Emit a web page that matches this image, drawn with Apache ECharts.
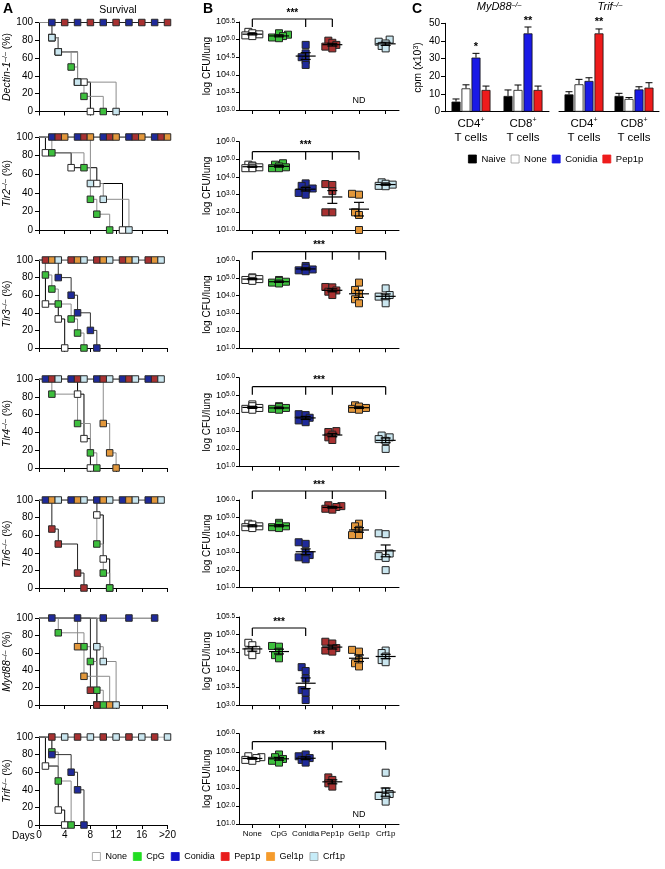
<!DOCTYPE html>
<html><head><meta charset="utf-8">
<script src="https://cdn.jsdelivr.net/npm/echarts@6/dist/echarts.min.js"></script>
<style>html,body{margin:0;padding:0;background:#fff}#c{width:665px;height:869px}</style>
</head><body><div id="c"></div>
<script>
// ---------------- DATA ----------------
const groups = ['None', 'CpG', 'Conidia', 'Pep1p', 'Gel1p', 'Crf1p'];
const genotypes = ['Dectin-1', 'Tlr2', 'Tlr3', 'Tlr4', 'Tlr6', 'Myd88', 'Trif'];
const dayTicks = [0, 4, 8, 12, 16, 20];
const dayTickLabels = ['0', '4', '8', '12', '16', '>20'];

// Survival curves [day, % alive], groups order: None, CpG, Conidia, Pep1p, Gel1p, Crf1p
const survDectin = [
  [[0,100],[2,83],[3,67],[6,33],[7,33],[8,0]],
  [[0,100],[2,83],[3,67],[5,50],[6,33],[7,17],[10,0]],
  [[0,100],[2,100],[6,100],[10,100],[14,100],[18,100]],
  [[0,100],[4,100],[8,100],[12,100],[16,100],[20,100]],
  null,
  [[0,100],[2,83],[3,67],[6,33],[12,0]]
];
const survTlr2 = [
  [[0,100],[1,83],[5,67],[9,50],[13,0]],
  [[0,100],[2,83],[7,67],[8,33],[9,17],[11,0]],
  [[0,100],[2,100],[6,100],[10,100],[14,100],[18,100]],
  [[0,100],[3,100],[7,100],[11,100],[15,100],[19,100]],
  [[0,100],[4,100],[8,100],[12,100],[16,100],[20,100]],
  [[0,100],[8,50],[10,33],[14,0]]
];
const survTlr3 = [
  [[0,100],[1,50],[3,33],[4,0]],
  [[0,100],[1,83],[2,67],[3,50],[5,33],[6,17],[7,0]],
  [[0,100],[3,80],[5,60],[6,40],[8,20],[9,0]],
  [[0,100],[1,100],[5,100],[9,100],[13,100],[17,100]],
  [[0,100],[2,100],[6,100],[10,100],[14,100],[18,100]],
  [[0,100],[3,100],[7,100],[11,100],[15,100],[19,100]]
];
const survTlr4 = [
  [[0,100],[6,83],[7,33],[8,0]],
  [[0,100],[2,83],[6,50],[8,17],[9,0]],
  [[0,100],[1,100],[5,100],[9,100],[13,100],[17,100]],
  [[0,100],[2,100],[6,100],[10,100],[14,100],[18,100]],
  [[0,100],[10,50],[11,17],[12,0]],
  [[0,100],[3,100],[7,100],[11,100],[15,100],[19,100]]
];
const survTlr6 = [
  [[0,100],[9,83],[10,33],[11,0]],
  [[0,100],[9,50],[10,17],[11,0]],
  [[0,100],[1,100],[5,100],[9,100],[13,100],[17,100]],
  [[0,100],[2,67],[3,50],[6,17],[7,0]],
  [[0,100],[2,100],[6,100],[10,100],[14,100],[18,100]],
  [[0,100],[3,100],[7,100],[11,100],[15,100],[19,100]]
];
const survMyd88 = [
  [[0,100],[9,0]],
  [[0,100],[3,83],[7,67],[8,50],[9,17],[10,0]],
  [[0,100],[2,100],[6,100],[10,100],[14,100],[18,100]],
  [[0,100],[8,17],[9,0]],
  [[0,100],[6,67],[7,33],[11,0]],
  [[0,100],[9,67],[10,50],[12,0]]
];
const survTrif = [
  [[0,100],[1,67],[3,17],[4,0]],
  [[0,100],[2,83],[3,50],[5,0]],
  [[0,100],[2,80],[5,60],[6,40],[7,0]],
  [[0,100],[2,100],[6,100],[10,100],[14,100],[18,100]],
  null,
  [[0,100],[4,100],[8,100],[12,100],[16,100],[20,100]]
];

// Fungal burden, log10 CFU/lung per mouse (empty = ND)
const cfuDectin = [[5.22,5.18,5.15,5.12,5.1],[5.18,5.14,5.1,5.06,5.04],[4.85,4.61,4.5,4.42,4.28],[4.97,4.91,4.85,4.8,4.75],[],[5.0,4.94,4.89,4.82,4.75]];
const cfuTlr2 = [[4.7,4.65,4.6,4.55,4.5,4.5],[4.78,4.7,4.6,4.55,4.5,4.5],[3.64,3.5,3.35,3.28,3.1,3.0],[3.6,3.55,3.2,2.0,2.0],[3.05,3.0,2.0,1.85,1.0],[3.7,3.62,3.57,3.5,3.48]];
const cfuTlr3 = [[5.05,5.0,4.95,4.9,4.85],[4.9,4.85,4.8,4.75,4.7],[5.7,5.6,5.5,5.45,5.4],[4.5,4.48,4.3,4.23,4.04],[4.75,4.33,4.1,3.8,3.57],[4.42,4.04,3.95,3.85,3.57]];
const cfuTlr4 = [[4.5,4.4,4.3,4.25,4.2],[4.4,4.35,4.3,4.25,4.2],[3.95,3.9,3.75,3.6,3.5],[3.0,2.95,2.8,2.65,2.5],[4.45,4.38,4.3,4.25,4.2],[2.75,2.65,2.55,2.45,2.0]];
const cfuTlr6 = [[4.65,4.6,4.5,4.45,4.4],[4.7,4.6,4.5,4.45,4.4],[3.59,3.5,3.0,2.86,2.73,2.62],[5.7,5.65,5.6,5.5,5.45],[4.65,4.5,4.3,4.0,4.0],[4.1,4.05,2.95,2.8,2.7,2.0]];
const cfuMyd88 = [[4.77,4.7,4.57,4.52,4.42],[4.68,4.66,4.52,4.42,4.33],[4.08,3.97,3.76,3.43,3.36,3.15],[4.8,4.75,4.62,4.55,4.52],[4.57,4.52,4.28,4.19,4.1],[4.55,4.48,4.38,4.28,4.22]];
const cfuTrif = [[4.75,4.7,4.65,4.55,4.5],[4.85,4.7,4.6,4.5,4.4],[4.85,4.75,4.65,4.55,4.4],[3.58,3.44,3.25,3.07],[],[3.84,2.8,2.66,2.55,2.5,2.24]];

// *** comparisons: first index = reference group
const sigDectin = [0, 2, 3];
const sigTlr2 = [0, 2, 3, 4];
const sigTlr3 = [0, 2, 3, 4, 5];
const sigTlr4 = [0, 2, 3, 5];
const sigTlr6 = [0, 2, 3, 5];
const sigMyd88 = [0, 2];
const sigTrif = [0, 3, 5];

// Panel C: T-cell proliferation, cpm (x10^3); rows = Naive, None, Conidia, Pep1p; cols = CD4, CD8
const cCategories = ['CD4', 'CD8'];
const cGroups = ['Naive', 'None', 'Conidia', 'Pep1p'];
const myd88Mean = [[5.7, 8.9], [13.2, 12.3], [30.6, 44.3], [12.3, 12.3]];
const myd88Sem = [[1.5, 3.4], [2.0, 2.8], [2.4, 3.6], [2.2, 2.2]];
const myd88Stars = [['', ''], ['', ''], ['*', '**'], ['', '']];
const trifMean = [[9.8, 8.9], [15.5, 7.2], [17.4, 12.6], [44.3, 13.6]];
const trifSem = [[1.5, 1.5], [2.8, 0.8], [1.8, 1.5], [2.5, 2.8]];
const trifStars = [['', ''], ['', ''], ['', ''], ['**', '']];

// ---------------- LAYOUT / STYLE ----------------
const FONT = '"Liberation Sans", Arial, Helvetica, sans-serif';
const survs = [survDectin, survTlr2, survTlr3, survTlr4, survTlr6, survMyd88, survTrif];
const cfus = [cfuDectin, cfuTlr2, cfuTlr3, cfuTlr4, cfuTlr6, cfuMyd88, cfuTrif];
const sigs = [sigDectin, sigTlr2, sigTlr3, sigTlr4, sigTlr6, sigMyd88, sigTrif];
const survLayout = [
  {top: 22.5, h: 89}, {top: 137, h: 93}, {top: 260, h: 88}, {top: 379, h: 89},
  {top: 500, h: 88}, {top: 618, h: 87}, {top: 737, h: 88}
];
const cfuLayout = [
  {top: 22, h: 88, min: 3, max: 5.5, step: 0.5, br: -3},
  {top: 141.7, h: 88.3, min: 1, max: 6, step: 1, br: 10},
  {top: 260.7, h: 87.6, min: 1, max: 6, step: 1, br: -9},
  {top: 377.7, h: 89, min: 1, max: 6, step: 1, br: 9},
  {top: 500, h: 87.7, min: 1, max: 6, step: 1, br: -9},
  {top: 617, h: 88.3, min: 3, max: 5.5, step: 0.5, br: 11},
  {top: 733.7, h: 90.3, min: 1, max: 6, step: 1, br: 8}
];
const markColor = {None: '#ffffff', CpG: '#3dbf3d', Conidia: '#1f2a9a', Pep1p: '#a83131', Gel1p: '#e2973b', Crf1p: '#cae6ef'};
const lineColor = {None: '#000000', CpG: '#8c8c8c', Conidia: '#333333', Pep1p: '#222222', Gel1p: '#8c8c8c', Crf1p: '#8c8c8c'};
const legendColor = {None: '#ffffff', CpG: '#22dd22', Conidia: '#1212c6', Pep1p: '#e81c1c', Gel1p: '#f59b2c', Crf1p: '#c6ecf8'};
const cColor = ['#000000', '#ffffff', '#1a1ae6', '#ee1c1c'];

const AX = {color: '#000', width: 1};
const grid = [], xAxis = [], yAxis = [], series = [];

function mean(a) { return a.reduce((s, v) => s + v, 0) / a.length; }
function sem(a) { const m = mean(a); return Math.sqrt(a.reduce((s, v) => s + (v - m) * (v - m), 0) / (a.length - 1)) / Math.sqrt(a.length); }
function swarm(values, pxPerUnit) {
  const order = values.map((v, i) => i).sort((a, b) => values[a] - values[b]);
  const placed = [], offs = new Array(values.length).fill(0);
  const cand = [0, -4, 4, -7, 7, -9, 9];
  order.forEach(i => {
    const y = values[i] * pxPerUnit;
    for (const dx of cand) {
      if (placed.every(p => Math.hypot(p.x - dx, p.y - y) >= 4.5)) { offs[i] = dx; placed.push({x: dx, y}); break; }
    }
  });
  return offs;
}

// ---- Panel A: survival ----
survs.forEach((sv, p) => {
  const L = survLayout[p];
  grid.push({left: 39, width: 128.5, top: L.top, height: L.h, outerBoundsMode: 'none', containLabel: false});
  const last = p === survs.length - 1;
  xAxis.push({
    type: 'value', gridIndex: p, min: 0, max: 20, interval: 4,
    axisLine: {show: true, onZero: false, lineStyle: AX},
    axisTick: {show: true, length: 4, lineStyle: AX},
    axisLabel: {show: last, fontSize: 10, color: '#000', fontFamily: FONT, margin: 5,
      formatter: v => dayTickLabels[dayTicks.indexOf(v)]},
    splitLine: {show: false}
  });
  yAxis.push({
    type: 'value', gridIndex: p, min: 0, max: 100, interval: 20,
    axisLine: {show: true, onZero: false, lineStyle: AX},
    axisTick: {show: true, length: 4, lineStyle: AX},
    axisLabel: {fontSize: 10, color: '#000', fontFamily: FONT, margin: 6},
    splitLine: {show: false},
    name: '{i|' + genotypes[p] + '}{s|\u2013/\u2013}{n| (%)}',
    nameLocation: 'middle', nameRotate: 90, nameGap: 22,
    nameTextStyle: {color: '#000', fontFamily: FONT, fontSize: 10.5,
      rich: {i: {fontStyle: 'italic', fontSize: 10.5, fontFamily: FONT, color: '#000'},
             s: {fontSize: 7, verticalAlign: 'top', fontFamily: FONT, color: '#000'},
             n: {fontSize: 10.5, fontFamily: FONT, color: '#000'}}}
  });
  sv.forEach((pts, g) => {
    if (!pts) return;
    const name = groups[g];
    series.push({type: 'line', name, xAxisIndex: p, yAxisIndex: p, step: 'end', data: pts,
      symbol: 'none', lineStyle: {color: lineColor[name], width: 1}, itemStyle: {color: markColor[name]},
      z: 2, silent: true, animation: false});
  });
  sv.forEach((pts, g) => {
    if (!pts) return;
    const name = groups[g];
    series.push({type: 'scatter', name, xAxisIndex: p, yAxisIndex: p, data: pts.slice(1),
      symbol: 'rect', symbolSize: 6.5,
      itemStyle: {color: markColor[name], borderColor: '#2a2a2a', borderWidth: 1, opacity: 1},
      z: 3 + g, silent: true, animation: false});
  });
});

// ---- Panel B: CFU dot plots ----
function statRender(params, api) {
  const g = api.value(0), m = api.value(1), s = api.value(2);
  const c = api.coord([g, m]), t = api.coord([g, m + s]), b = api.coord([g, m - s]);
  const st = {stroke: '#000', lineWidth: 1.2};
  return {type: 'group', children: [
    {type: 'line', shape: {x1: c[0] - 10, y1: c[1], x2: c[0] + 10, y2: c[1]}, style: st},
    {type: 'line', shape: {x1: c[0], y1: t[1], x2: c[0], y2: b[1]}, style: st},
    {type: 'line', shape: {x1: c[0] - 5, y1: t[1], x2: c[0] + 5, y2: t[1]}, style: st},
    {type: 'line', shape: {x1: c[0] - 5, y1: b[1], x2: c[0] + 5, y2: b[1]}, style: st}
  ]};
}
cfus.forEach((cf, p) => {
  const L = cfuLayout[p];
  const gi = 7 + p;
  grid.push({left: 239, width: 160, top: L.top, height: L.h, outerBoundsMode: 'none', containLabel: false});
  xAxis.push({
    type: 'category', gridIndex: gi, data: groups, boundaryGap: true,
    axisLine: {show: true, onZero: false, lineStyle: AX},
    axisTick: {show: true, alignWithLabel: true, length: 4, lineStyle: AX},
    axisLabel: {show: p === cfus.length - 1, fontSize: 8, color: '#000', fontFamily: FONT, margin: 6, interval: 0},
    splitLine: {show: false}
  });
  yAxis.push({
    type: 'value', gridIndex: gi, min: L.min, max: L.max, interval: L.step,
    axisLine: {show: true, onZero: false, lineStyle: AX},
    axisTick: {show: true, length: 3, lineStyle: AX},
    axisLabel: {fontSize: 9, color: '#000', fontFamily: FONT, margin: 4,
      formatter: v => '10{s|' + v.toFixed(1) + '}',
      rich: {s: {fontSize: 6.5, verticalAlign: 'top', color: '#000', fontFamily: FONT}}},
    splitLine: {show: false},
    name: 'log CFU/lung', nameLocation: 'middle', nameRotate: 90, nameGap: 26,
    nameTextStyle: {fontSize: 10, color: '#000', fontFamily: FONT}
  });
  const pxPerUnit = L.h / (L.max - L.min);
  cf.forEach((vals, g) => {
    if (!vals.length) return;
    const offs = swarm(vals, pxPerUnit);
    series.push({type: 'scatter', name: groups[g], xAxisIndex: gi, yAxisIndex: gi,
      data: vals.map((v, i) => ({value: [g, v], symbolOffset: [offs[i], 0]})),
      symbol: 'rect', symbolSize: 7,
      itemStyle: {color: markColor[groups[g]], borderColor: '#222', borderWidth: 1, opacity: 1},
      z: 3, silent: true, animation: false});
  });
  const stats = [];
  cf.forEach((vals, g) => { if (vals.length) stats.push([g, mean(vals), sem(vals)]); });
  series.push({type: 'custom', xAxisIndex: gi, yAxisIndex: gi, data: stats, renderItem: statRender,
    z: 5, silent: true, animation: false});
  const sig = sigs[p];
  series.push({type: 'custom', xAxisIndex: gi, yAxisIndex: gi, data: [[sig[0], L.max]], z: 5, silent: true, animation: false,
    renderItem: (params, api) => {
      const yTop = api.coord([0, L.max])[1] + L.br;
      const xs = sig.map(g => api.coord([g, L.max])[0]);
      const st = {stroke: '#000', lineWidth: 1.2};
      const ch = [{type: 'line', shape: {x1: xs[0], y1: yTop, x2: xs[xs.length - 1], y2: yTop}, style: st}];
      xs.forEach(x => ch.push({type: 'line', shape: {x1: x, y1: yTop, x2: x, y2: yTop + 8}, style: st}));
      ch.push({type: 'text', style: {text: '***', x: (xs[0] + xs[xs.length - 1]) / 2, y: yTop - 1,
        align: 'center', verticalAlign: 'bottom', fontSize: 10, fontWeight: 'bold', fontFamily: FONT, fill: '#000'}});
      return {type: 'group', children: ch};
    }});
  const nd = [];
  cf.forEach((vals, g) => { if (!vals.length) nd.push([g, L.min]); });
  if (nd.length) {
    series.push({type: 'custom', xAxisIndex: gi, yAxisIndex: gi, data: nd, z: 5, silent: true, animation: false,
      renderItem: (params, api) => {
        const c = api.coord([api.value(0), api.value(1)]);
        return {type: 'text', style: {text: 'ND', x: c[0], y: c[1] - 9, align: 'center', verticalAlign: 'middle',
          fontSize: 9, fontFamily: FONT, fill: '#000'}};
      }});
  }
});

// ---- Panel C: proliferation bars ----
const cGrids = [{left: 445, width: 104}, {left: 559, width: 100}];
const BW = 9, GAP = 0.11;
[[myd88Mean, myd88Sem, myd88Stars], [trifMean, trifSem, trifStars]].forEach(([means, sems, stars], k) => {
  const gi = 14 + k;
  grid.push({left: cGrids[k].left, width: cGrids[k].width, top: 23.3, height: 88.4, outerBoundsMode: 'none', containLabel: false});
  xAxis.push({
    type: 'category', gridIndex: gi, data: cCategories,
    axisLine: {show: true, onZero: false, lineStyle: AX}, axisTick: {show: false},
    axisLabel: {color: '#000', fontFamily: FONT, margin: 5, interval: 0, fontSize: 11.5,
      formatter: v => '{a|' + v + '}{s|+}\n{a|T cells}',
      rich: {a: {fontSize: 11.5, lineHeight: 14, color: '#000', fontFamily: FONT},
             s: {fontSize: 7, verticalAlign: 'top', color: '#000', fontFamily: FONT}}},
    splitLine: {show: false}
  });
  yAxis.push({
    type: 'value', gridIndex: gi, min: 0, max: 50, interval: 10,
    axisLine: {show: k === 0, onZero: false, lineStyle: AX},
    axisTick: {show: k === 0, length: 4, lineStyle: AX},
    axisLabel: {show: k === 0, fontSize: 10, color: '#000', fontFamily: FONT, margin: 5},
    splitLine: {show: false},
    name: k === 0 ? 'cpm (x10{s|3})' : '', nameLocation: 'middle', nameRotate: 90, nameGap: 21,
    nameTextStyle: {fontSize: 10.5, color: '#000', fontFamily: FONT,
      rich: {s: {fontSize: 7, verticalAlign: 'top', color: '#000', fontFamily: FONT}}}
  });
  cGroups.forEach((name, g) => {
    series.push({type: 'bar', name, xAxisIndex: gi, yAxisIndex: gi, data: means[g],
      barWidth: BW, barGap: (GAP * 100) + '%',
      itemStyle: {color: cColor[g], borderColor: '#111', borderWidth: 0.8},
      z: 2, silent: true, animation: false});
  });
  const err = [];
  means.forEach((arr, g) => arr.forEach((m, c) => err.push([c, g, m, sems[g][c]])));
  series.push({type: 'custom', xAxisIndex: gi, yAxisIndex: gi, data: err, encode: {x: 0, y: 2},
    z: 4, silent: true, animation: false,
    renderItem: (params, api) => {
      const c = api.value(0), g = api.value(1), m = api.value(2), s = api.value(3);
      const step = BW * (1 + GAP);
      const x = api.coord([c, 0])[0] + (g - 1.5) * step;
      const yb = api.coord([c, m])[1], yt = api.coord([c, m + s])[1];
      const st = {stroke: '#000', lineWidth: 1};
      const ch = [
        {type: 'line', shape: {x1: x, y1: yb, x2: x, y2: yt}, style: st},
        {type: 'line', shape: {x1: x - 3.5, y1: yt, x2: x + 3.5, y2: yt}, style: st}
      ];
      const star = stars[g][c];
      if (star) ch.push({type: 'text', style: {text: star, x: x, y: yt - 1, align: 'center', verticalAlign: 'bottom',
        fontSize: 11, fontWeight: 'bold', fontFamily: FONT, fill: '#000'}});
      return {type: 'group', children: ch};
    }});
});

// ---- legends & titles ----
const legendBase = {orient: 'horizontal', itemWidth: 8, itemHeight: 8, icon: 'rect', selectedMode: false,
  textStyle: {fontSize: 10, color: '#000', fontFamily: FONT}, padding: 0};
const legends = [
  Object.assign({}, legendBase, {left: 92, top: 852, itemGap: 6,
    textStyle: {fontSize: 9, color: '#000', fontFamily: FONT},
    data: groups.map(n => ({name: n, itemStyle: {color: legendColor[n],
      borderColor: (n === 'None' || n === 'Crf1p') ? '#999' : legendColor[n], borderWidth: 0.8}}))}),
  Object.assign({}, legendBase, {left: 468, top: 154, itemGap: 5,
    textStyle: {fontSize: 9.5, color: '#000', fontFamily: FONT},
    data: cGroups.map((n, g) => ({name: n, itemStyle: {color: cColor[g],
      borderColor: g === 1 ? '#999' : cColor[g], borderWidth: 0.8}}))})
];

const txt = (x, y, text, extra) => ({type: 'text', x, y, silent: true,
  style: Object.assign({text, fontFamily: FONT, fill: '#000', fontSize: 10.5, align: 'left', verticalAlign: 'top'}, extra || {})});
const graphic = [
  txt(3, 2, 'A', {fontSize: 14, fontWeight: 'bold'}),
  txt(203, 2, 'B', {fontSize: 14, fontWeight: 'bold'}),
  txt(412, 2, 'C', {fontSize: 14, fontWeight: 'bold'}),
  txt(118, 10, 'Survival', {align: 'center', verticalAlign: 'middle', fontSize: 10.5}),
  txt(12, 836, 'Days', {verticalAlign: 'middle', fontSize: 10}),
  txt(499, 7, '{i|MyD88}{s|\u2013/\u2013}', {align: 'center', verticalAlign: 'middle',
    rich: {i: {fontStyle: 'italic', fontSize: 11, fontFamily: FONT, fill: '#000'},
           s: {fontStyle: 'italic', fontSize: 7, verticalAlign: 'top', fontFamily: FONT, fill: '#000'}}}),
  txt(610, 7, '{i|Trif}{s|\u2013/\u2013}', {align: 'center', verticalAlign: 'middle',
    rich: {i: {fontStyle: 'italic', fontSize: 11, fontFamily: FONT, fill: '#000'},
           s: {fontStyle: 'italic', fontSize: 7, verticalAlign: 'top', fontFamily: FONT, fill: '#000'}}})
];

const chart = echarts.init(document.getElementById('c'), null, {renderer: 'canvas'});
chart.setOption({
  backgroundColor: '#ffffff',
  animation: false,
  textStyle: {fontFamily: FONT},
  grid, xAxis, yAxis, series, legend: legends, graphic
});
</script></body></html>
